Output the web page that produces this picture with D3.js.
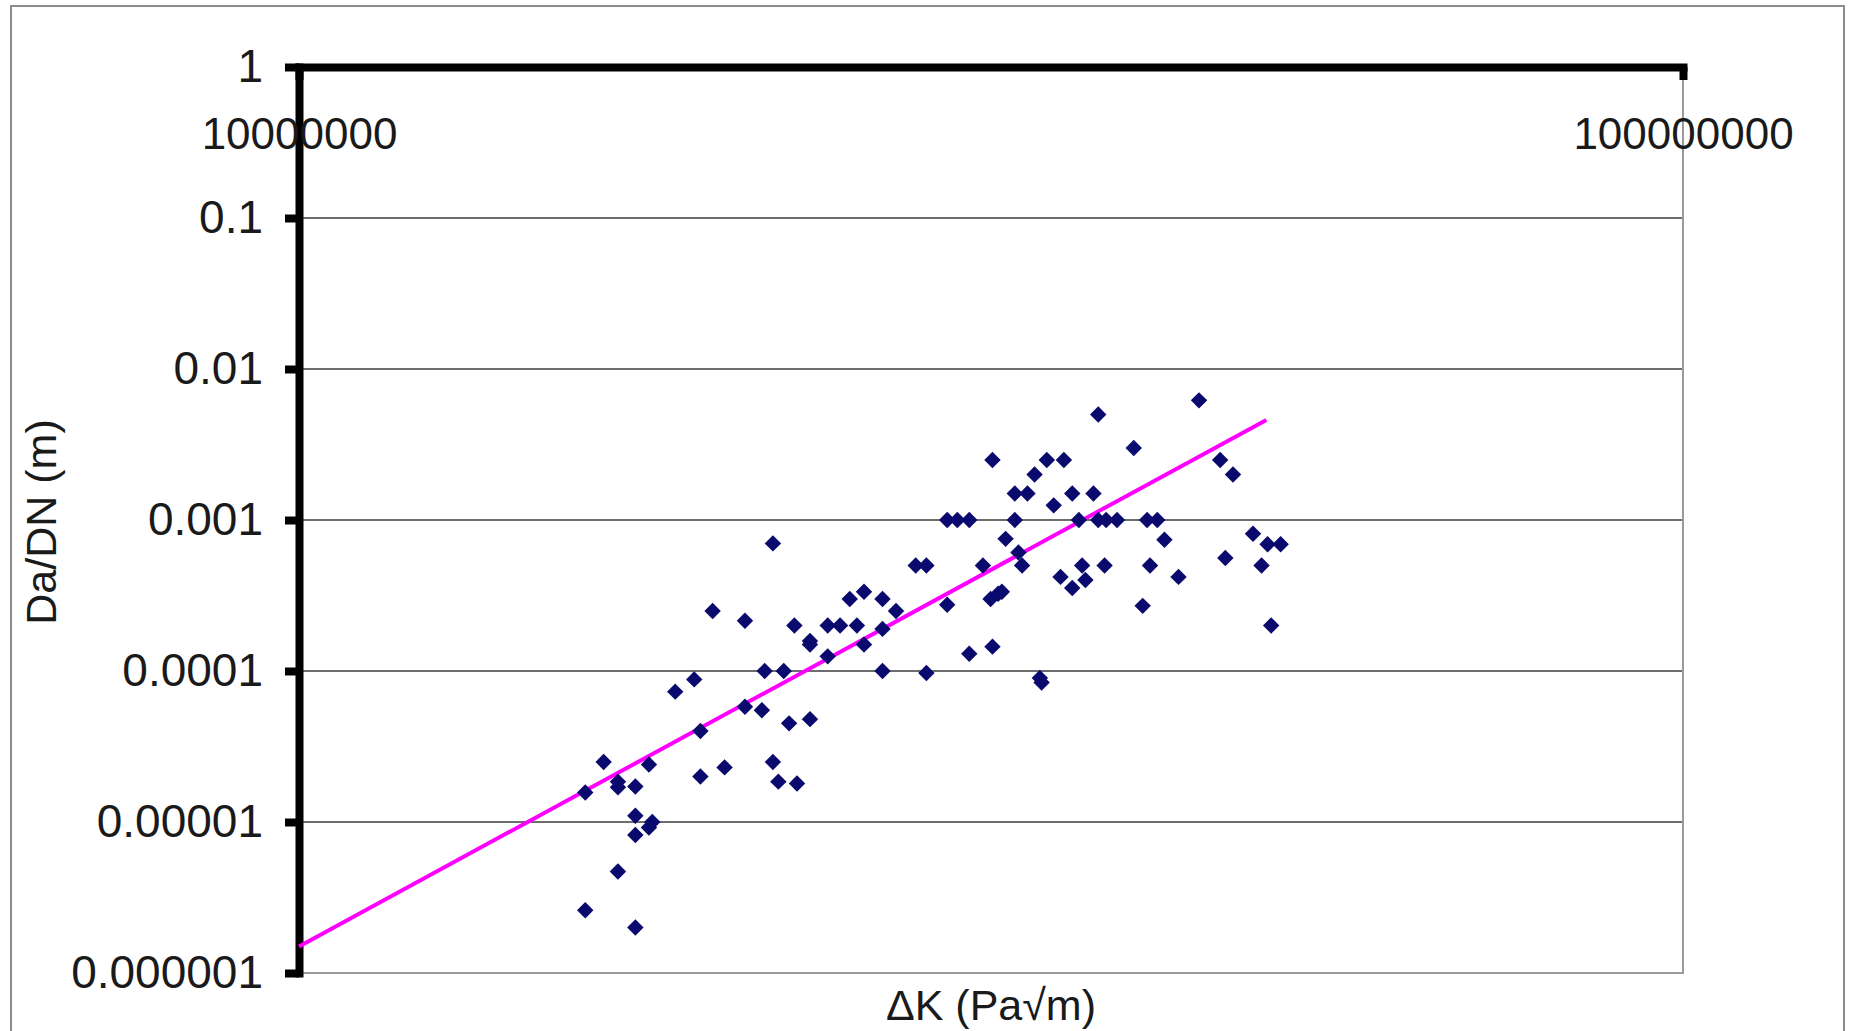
<!DOCTYPE html>
<html>
<head>
<meta charset="utf-8">
<script src="https://cdn.jsdelivr.net/npm/d3@7"></script>
<style>
  body { margin: 0; background: #fff; }
  text { font-family: "Liberation Sans", Arial, sans-serif; fill: #1a1a1a; }
</style>
</head>
<body>
<script>
// 數據: ΔK (Pa√m) 與 da/dN (m)
const deltaK = [
  1.61e7, 1.61e7, 1.66e7, 1.70e7, 1.70e7, 1.75e7, 1.75e7, 1.75e7, 1.70e7, 1.75e7,
  1.79e7, 1.80e7, 1.79e7, 1.87e7, 1.93e7, 1.95e7, 1.95e7, 1.99e7, 2.03e7, 2.10e7,
  2.10e7, 2.16e7, 2.17e7, 2.20e7, 2.20e7, 2.22e7, 2.24e7, 2.26e7, 2.28e7, 2.29e7,
  2.34e7, 2.34e7, 2.34e7, 2.41e7, 2.41e7, 2.46e7, 2.50e7, 2.53e7, 2.56e7, 2.56e7,
  2.64e7, 2.64e7, 2.64e7, 2.70e7, 2.79e7, 2.84e7, 2.84e7, 2.94e7, 2.94e7, 2.99e7,
  3.05e7, 3.05e7, 3.12e7, 3.17e7, 3.17e7, 3.16e7, 3.20e7, 3.22e7, 3.24e7, 3.29e7,
  3.29e7, 3.31e7, 3.33e7, 3.36e7, 3.40e7, 3.43e7, 3.44e7, 3.47e7, 3.51e7, 3.57e7,
  3.55e7, 3.62e7, 3.62e7, 3.66e7, 3.68e7, 3.70e7, 3.75e7, 3.78e7, 3.78e7, 3.82e7,
  3.83e7, 3.90e7, 4.01e7, 4.07e7, 4.10e7, 4.12e7, 4.17e7, 4.22e7, 4.32e7, 4.47e7,
  4.63e7, 4.67e7, 4.73e7, 4.89e7, 4.96e7, 5.01e7, 5.04e7, 5.12e7
];
const dadN = [
  1.57e-5, 2.6e-6, 2.5e-5, 1.85e-5, 1.7e-5, 1.72e-5, 1.1e-5, 8.2e-6, 4.7e-6, 2.0e-6,
  2.4e-5, 1.0e-5, 9.2e-6, 7.3e-5, 8.8e-5, 4.0e-5, 2.0e-5, 2.5e-4, 2.3e-5, 2.15e-4,
  5.8e-5, 5.5e-5, 1.0e-4, 7.0e-4, 2.5e-5, 1.85e-5, 1.0e-4, 4.5e-5, 2.0e-4, 1.8e-5,
  4.8e-5, 1.58e-4, 1.5e-4, 1.25e-4, 2.0e-4, 2.0e-4, 3.0e-4, 2.0e-4, 3.35e-4, 1.5e-4,
  3.0e-4, 1.9e-4, 1.0e-4, 2.5e-4, 5.0e-4, 5.0e-4, 9.7e-5, 2.75e-4, 1.0e-3, 1.0e-3,
  1.0e-3, 1.3e-4, 5.0e-4, 1.45e-4, 2.5e-3, 3.0e-4, 3.25e-4, 3.35e-4, 7.5e-4, 1.5e-3,
  1.0e-3, 6.1e-4, 5.0e-4, 1.5e-3, 2.0e-3, 9.0e-5, 8.4e-5, 2.5e-3, 1.25e-3, 2.5e-3,
  4.2e-4, 3.55e-4, 1.5e-3, 1.0e-3, 5.0e-4, 4.0e-4, 1.5e-3, 5.0e-3, 1.0e-3, 5.0e-4,
  1.0e-3, 1.0e-3, 3.0e-3, 2.7e-4, 1.0e-3, 5.0e-4, 1.0e-3, 7.4e-4, 4.2e-4, 6.2e-3,
  2.5e-3, 5.6e-4, 2.0e-3, 8.1e-4, 5.0e-4, 6.9e-4, 2.0e-4, 6.9e-4
];

// 趨勢線 (冪次) 兩端點
const trendK = [1.0e7, 5.0e7];
const trendRate = [1.5e-6, 4.6e-3];

// 刻度
const xTicks = [1e7, 1e8];
const xTickLabels = ["10000000", "100000000"];
const yTicks = [1, 0.1, 0.01, 0.001, 0.0001, 0.00001, 0.000001];
const yTickLabels = ["1", "0.1", "0.01", "0.001", "0.0001", "0.00001", "0.000001"];

// 畫布
const width = 1850;
const height = 1031;
const plot = { left: 299, right: 1683, top: 67, bottom: 973 };

const svg = d3.select("body")
  .append("svg")
  .attr("width", width)
  .attr("height", height);

// 外框
svg.append("rect")
  .attr("x", 11)
  .attr("y", 6)
  .attr("width", 1833)
  .attr("height", 1100)
  .attr("fill", "none")
  .attr("stroke", "#8c8c8c")
  .attr("stroke-width", 2);

// 比例尺
const xScale = d3.scaleLog()
  .domain([1e7, 1e8])
  .range([plot.left, plot.right]);

const yScale = d3.scaleLog()
  .domain([1e-6, 1])
  .range([plot.bottom, plot.top]);

// 格線
svg.append("g")
  .selectAll("line")
  .data(yTicks.slice(1, -1))
  .enter()
  .append("line")
  .attr("x1", plot.left)
  .attr("x2", plot.right)
  .attr("y1", d => yScale(d))
  .attr("y2", d => yScale(d))
  .attr("stroke", "#3c3c3c")
  .attr("stroke-width", 1.6);

// 繪圖區邊框 (右、下)
svg.append("path")
  .attr("d", `M${plot.left},${plot.bottom}H${plot.right}V${plot.top}`)
  .attr("fill", "none")
  .attr("stroke", "#9a9a9a")
  .attr("stroke-width", 2);

// Y 軸
const yAxis = d3.axisLeft(yScale)
  .tickValues(yTicks)
  .tickFormat((d, i) => yTickLabels[i])
  .tickSizeInner(14)
  .tickSizeOuter(0)
  .tickPadding(22);

const yAxisG = svg.append("g")
  .attr("transform", `translate(${plot.left}, 0)`)
  .call(yAxis);

// X 軸 (在上方, 標籤在下)
const xAxis = d3.axisBottom(xScale)
  .tickValues(xTicks)
  .tickFormat((d, i) => xTickLabels[i])
  .tickSizeInner(13)
  .tickSizeOuter(0)
  .tickPadding(38);

const xAxisG = svg.append("g")
  .attr("transform", `translate(0, ${plot.top})`)
  .call(xAxis);

[yAxisG, xAxisG].forEach(g => {
  g.select(".domain").attr("stroke", "#000").attr("stroke-width", 8).attr("stroke-linecap", "square");
  g.selectAll(".tick line").attr("stroke", "#000").attr("stroke-width", 8);
  g.selectAll(".tick text")
    .attr("font-family", "'Liberation Sans', Arial, sans-serif")
    .attr("fill", "#1a1a1a");
});
yAxisG.selectAll(".tick text").attr("font-size", 46);
xAxisG.selectAll(".tick text").attr("font-size", 44);

// 趨勢線
const trendLine = d3.line()
  .x(d => xScale(d[0]))
  .y(d => yScale(d[1]));

svg.append("path")
  .datum(d3.zip(trendK, trendRate))
  .attr("d", trendLine)
  .attr("fill", "none")
  .attr("stroke", "#ff00ff")
  .attr("stroke-width", 4);

// 數據點 (菱形)
const diamond = d3.symbol().type(d3.symbolSquare).size(135);

svg.append("g")
  .selectAll("path")
  .data(d3.zip(deltaK, dadN))
  .enter()
  .append("path")
  .attr("d", diamond)
  .attr("transform", d => `translate(${xScale(d[0])}, ${yScale(d[1])}) rotate(45)`)
  .attr("fill", "#0a0a6e");

// 軸標題
svg.append("text")
  .attr("x", (plot.left + plot.right) / 2)
  .attr("y", 1020)
  .attr("text-anchor", "middle")
  .attr("font-size", 43)
  .text("ΔK (Pa√m)");

svg.append("text")
  .attr("transform", "translate(56, 522) rotate(-90)")
  .attr("text-anchor", "middle")
  .attr("font-size", 43)
  .text("Da/DN (m)");
</script>
</body>
</html>
